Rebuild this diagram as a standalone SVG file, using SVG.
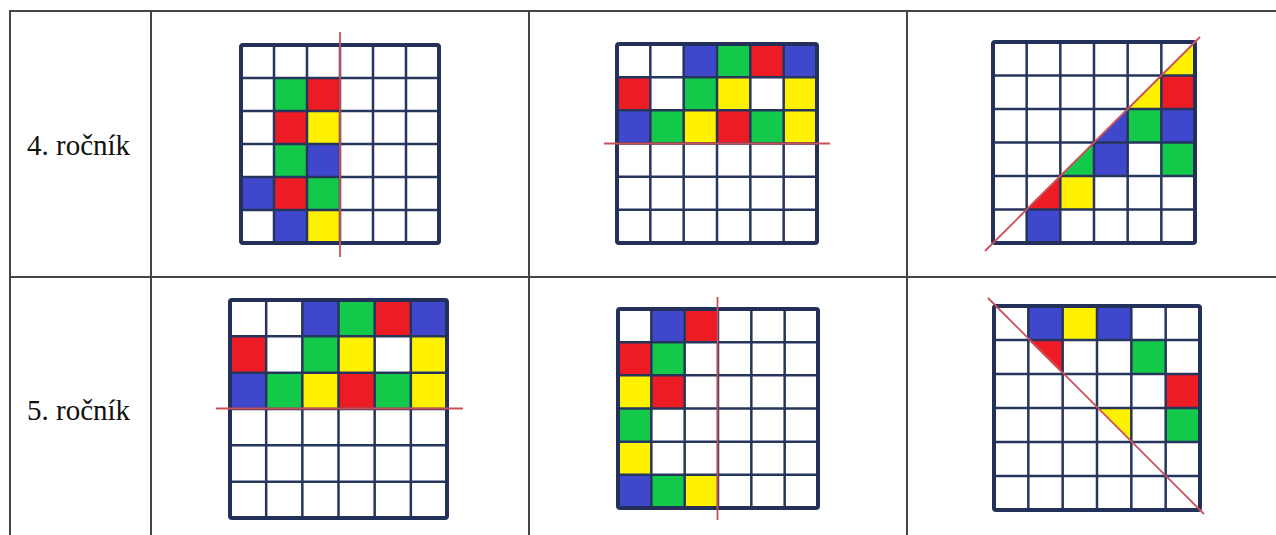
<svg xmlns="http://www.w3.org/2000/svg" width="1276" height="535" viewBox="0 0 1276 535">
<style>
.tbl{stroke:#444;stroke-width:2;fill:none}
.lbl{font-family:"Liberation Serif","Times New Roman",serif;font-size:29px;fill:#111}
.B{fill:#3f48cc}.G{fill:#13c94a}.R{fill:#ed1c24}.Y{fill:#fff200}
.inner{stroke:#26355c;stroke-width:2.5;fill:none}
.outer{stroke:#22305a;stroke-width:4;fill:none}
.cut{stroke:#c9505a;stroke-width:1.8;fill:none}
</style>
<rect width="1276" height="535" fill="#fff"/>
<g id="table">
<path class="tbl" d="M9 11H1276M9 277H1276M10 11V535M151 11V535M529 11V535M907 11V535"/>
</g>
<g id="label-4"><text class="lbl" x="27" y="155">4. ročník</text></g>
<g id="label-5"><text class="lbl" x="27" y="420">5. ročník</text></g>

<g id="grid-4a" transform="translate(241,45)">
<rect class="G" x="33" y="33" width="33" height="33"/><rect class="R" x="66" y="33" width="33" height="33"/>
<rect class="R" x="33" y="66" width="33" height="33"/><rect class="Y" x="66" y="66" width="33" height="33"/>
<rect class="G" x="33" y="99" width="33" height="33"/><rect class="B" x="66" y="99" width="33" height="33"/>
<rect class="B" x="0" y="132" width="33" height="33"/><rect class="R" x="33" y="132" width="33" height="33"/><rect class="G" x="66" y="132" width="33" height="33"/>
<rect class="B" x="33" y="165" width="33" height="33"/><rect class="Y" x="66" y="165" width="33" height="33"/>
<path class="inner" d="M33 0V198M66 0V198M99 0V198M132 0V198M165 0V198M0 33H198M0 66H198M0 99H198M0 132H198M0 165H198"/>
<rect class="outer" x="0" y="0" width="198" height="198" rx="2"/>
<path class="cut" d="M99 -13V212"/>
</g>

<g id="grid-4b" transform="translate(617,44)">
<rect class="B" x="66.67" y="0" width="33.33" height="33.17"/><rect class="G" x="100" y="0" width="33.33" height="33.17"/><rect class="R" x="133.33" y="0" width="33.33" height="33.17"/><rect class="B" x="166.67" y="0" width="33.33" height="33.17"/>
<rect class="R" x="0" y="33.17" width="33.33" height="33.17"/><rect class="G" x="66.67" y="33.17" width="33.33" height="33.17"/><rect class="Y" x="100" y="33.17" width="33.33" height="33.17"/><rect class="Y" x="166.67" y="33.17" width="33.33" height="33.17"/>
<rect class="B" x="0" y="66.33" width="33.33" height="33.17"/><rect class="G" x="33.33" y="66.33" width="33.33" height="33.17"/><rect class="Y" x="66.67" y="66.33" width="33.33" height="33.17"/><rect class="R" x="100" y="66.33" width="33.33" height="33.17"/><rect class="G" x="133.33" y="66.33" width="33.33" height="33.17"/><rect class="Y" x="166.67" y="66.33" width="33.33" height="33.17"/>
<path class="inner" d="M33.33 0V199M66.67 0V199M100 0V199M133.33 0V199M166.67 0V199M0 33.17H200M0 66.33H200M0 99.5H200M0 132.67H200M0 165.83H200"/>
<rect class="outer" x="0" y="0" width="200" height="199" rx="2"/>
<path class="cut" d="M-13 99.5H213"/>
</g>

<g id="grid-4c" transform="translate(993,42)">
<polygon class="Y" points="202,0 202,33.5 168.33,33.5"/>
<polygon class="Y" points="168.33,33.5 168.33,67 134.67,67"/><rect class="R" x="168.33" y="33.5" width="33.67" height="33.5"/>
<polygon class="B" points="134.67,67 134.67,100.5 101,100.5"/><rect class="G" x="134.67" y="67" width="33.67" height="33.5"/><rect class="B" x="168.33" y="67" width="33.67" height="33.5"/>
<polygon class="G" points="101,100.5 101,134 67.33,134"/><rect class="B" x="101" y="100.5" width="33.67" height="33.5"/><rect class="G" x="168.33" y="100.5" width="33.67" height="33.5"/>
<polygon class="R" points="67.33,134 67.33,167.5 33.67,167.5"/><rect class="Y" x="67.33" y="134" width="33.67" height="33.5"/>
<rect class="B" x="33.67" y="167.5" width="33.67" height="33.5"/>
<path class="inner" d="M33.67 0V201M67.33 0V201M101 0V201M134.67 0V201M168.33 0V201M0 33.5H202M0 67H202M0 100.5H202M0 134H202M0 167.5H202"/>
<rect class="outer" x="0" y="0" width="202" height="201" rx="2"/>
<path class="cut" d="M-8 209L207 -5"/>
</g>

<g id="grid-5a" transform="translate(230,300)">
<rect class="B" x="72.33" y="0" width="36.17" height="36.33"/><rect class="G" x="108.5" y="0" width="36.17" height="36.33"/><rect class="R" x="144.67" y="0" width="36.17" height="36.33"/><rect class="B" x="180.83" y="0" width="36.17" height="36.33"/>
<rect class="R" x="0" y="36.33" width="36.17" height="36.33"/><rect class="G" x="72.33" y="36.33" width="36.17" height="36.33"/><rect class="Y" x="108.5" y="36.33" width="36.17" height="36.33"/><rect class="Y" x="180.83" y="36.33" width="36.17" height="36.33"/>
<rect class="B" x="0" y="72.67" width="36.17" height="36.33"/><rect class="G" x="36.17" y="72.67" width="36.17" height="36.33"/><rect class="Y" x="72.33" y="72.67" width="36.17" height="36.33"/><rect class="R" x="108.5" y="72.67" width="36.17" height="36.33"/><rect class="G" x="144.67" y="72.67" width="36.17" height="36.33"/><rect class="Y" x="180.83" y="72.67" width="36.17" height="36.33"/>
<path class="inner" d="M36.17 0V218M72.33 0V218M108.5 0V218M144.67 0V218M180.83 0V218M0 36.33H217M0 72.67H217M0 109H217M0 145.33H217M0 181.67H217"/>
<rect class="outer" x="0" y="0" width="217" height="218" rx="2"/>
<path class="cut" d="M-14 108.5H233"/>
</g>

<g id="grid-5b" transform="translate(618,309)">
<rect class="B" x="33.33" y="0" width="33.33" height="33.17"/><rect class="R" x="66.67" y="0" width="33.33" height="33.17"/>
<rect class="R" x="0" y="33.17" width="33.33" height="33.17"/><rect class="G" x="33.33" y="33.17" width="33.33" height="33.17"/>
<rect class="Y" x="0" y="66.33" width="33.33" height="33.17"/><rect class="R" x="33.33" y="66.33" width="33.33" height="33.17"/>
<rect class="G" x="0" y="99.5" width="33.33" height="33.17"/>
<rect class="Y" x="0" y="132.67" width="33.33" height="33.17"/>
<rect class="B" x="0" y="165.83" width="33.33" height="33.17"/><rect class="G" x="33.33" y="165.83" width="33.33" height="33.17"/><rect class="Y" x="66.67" y="165.83" width="33.33" height="33.17"/>
<path class="inner" d="M33.33 0V199M66.67 0V199M100 0V199M133.33 0V199M166.67 0V199M0 33.17H200M0 66.33H200M0 99.5H200M0 132.67H200M0 165.83H200"/>
<rect class="outer" x="0" y="0" width="200" height="199" rx="2"/>
<path class="cut" d="M99.5 -12V211"/>
</g>

<g id="grid-5c" transform="translate(994,306)">
<rect class="B" x="34.33" y="0" width="34.33" height="34"/><rect class="Y" x="68.67" y="0" width="34.33" height="34"/><rect class="B" x="103" y="0" width="34.33" height="34"/>
<polygon class="R" points="34.33,34 68.67,34 68.67,68"/><rect class="G" x="137.33" y="34" width="34.33" height="34"/>
<rect class="R" x="171.67" y="68" width="34.33" height="34"/>
<polygon class="Y" points="103,102 137.33,102 137.33,136"/><rect class="G" x="171.67" y="102" width="34.33" height="34"/>
<path class="inner" d="M34.33 0V204M68.67 0V204M103 0V204M137.33 0V204M171.67 0V204M0 34H206M0 68H206M0 102H206M0 136H206M0 170H206"/>
<rect class="outer" x="0" y="0" width="206" height="204" rx="2"/>
<path class="cut" d="M-6 -8L210 208"/>
</g>
</svg>
